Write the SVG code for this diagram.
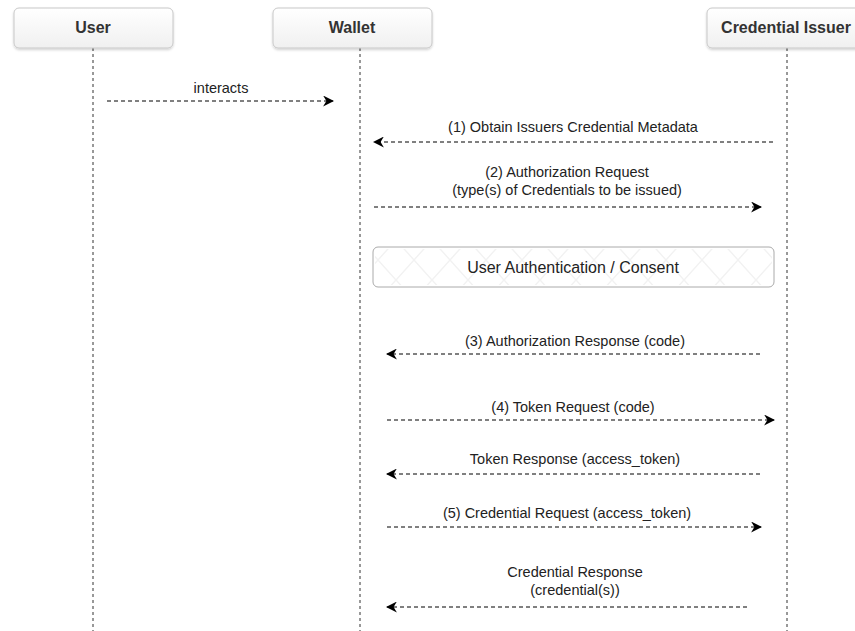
<svg xmlns="http://www.w3.org/2000/svg" width="855" height="631" viewBox="0 0 855 631">
<defs>
<linearGradient id="hdr" x1="0" y1="0" x2="0" y2="1">
<stop offset="0" stop-color="#ffffff"/>
<stop offset="1" stop-color="#f0f0f0"/>
</linearGradient>
<filter id="sh" x="-10%" y="-20%" width="120%" height="150%">
<feDropShadow dx="0" dy="1.5" stdDeviation="1.2" flood-color="#000" flood-opacity="0.18"/>
</filter>
<pattern id="xh" width="36" height="40" patternUnits="userSpaceOnUse">
<path d="M0,0 L36,40 M36,0 L0,40" stroke="#f2f2f2" stroke-width="1.5" fill="none"/>
</pattern>
<marker id="ah" viewBox="0 0 10 10" refX="9" refY="5" markerWidth="11" markerHeight="11" markerUnits="userSpaceOnUse" orient="auto">
<path d="M0,0 L10,5 L0,10 L3,5 z" fill="#000"/>
</marker>
</defs>
<style>
.hdr{fill:url(#hdr);stroke:#c8c8c8;stroke-width:1;filter:url(#sh)}
.ht{font-family:"Liberation Sans",Arial,sans-serif;font-size:16px;font-weight:bold;fill:#333;text-anchor:middle}
.life{stroke:#333;stroke-width:1;stroke-dasharray:3 3;fill:none}
.msg{stroke:#000;stroke-width:1;stroke-dasharray:4 3;fill:none;marker-end:url(#ah)}
.lbl{font-family:"Liberation Sans",Arial,sans-serif;font-size:14.5px;fill:#222;text-anchor:middle}
.big{font-size:16px}
</style>
<rect width="855" height="631" fill="#fff"/>
<g id="lifelines">
<line class="life" x1="93" y1="48" x2="93" y2="631"/>
<line class="life" x1="360" y1="48" x2="360" y2="631"/>
<line class="life" x1="787" y1="48" x2="787" y2="631"/>
</g>
<g id="user">
<rect class="hdr" x="14" y="8" width="159" height="40" rx="5"/>
<text class="ht" x="93" y="33">User</text>
</g>
<g id="wallet">
<rect class="hdr" x="273" y="8" width="159" height="40" rx="5"/>
<text class="ht" x="352" y="33">Wallet</text>
</g>
<g id="issuer">
<rect class="hdr" x="707" y="8" width="159" height="40" rx="5"/>
<text class="ht" x="786" y="33">Credential Issuer</text>
</g>
<g id="consent">
<rect x="373" y="247" width="401" height="40" rx="5" fill="#fff" stroke="#aaa"/>
<rect x="375" y="249" width="397" height="36" rx="4" fill="url(#xh)"/>
<text class="lbl big" x="573" y="273">User Authentication / Consent</text>
</g>
<g id="connectors">
<line class="msg" x1="107" y1="101" x2="333" y2="101"/>
<text class="lbl" x="221" y="93">interacts</text>
<line class="msg" x1="773" y1="142" x2="374" y2="142"/>
<text class="lbl" x="573" y="132">(1) Obtain Issuers Credential Metadata</text>
<line class="msg" x1="374" y1="207" x2="761" y2="207"/>
<text class="lbl" x="567" y="177">(2) Authorization Request</text>
<text class="lbl" x="567" y="195">(type(s) of Credentials to be issued)</text>
<line class="msg" x1="760" y1="354" x2="387" y2="354"/>
<text class="lbl" x="575" y="346">(3) Authorization Response (code)</text>
<line class="msg" x1="387" y1="420" x2="774" y2="420"/>
<text class="lbl" x="573" y="412">(4) Token Request (code)</text>
<line class="msg" x1="760" y1="474" x2="387" y2="474"/>
<text class="lbl" x="575" y="464">Token Response (access_token)</text>
<line class="msg" x1="387" y1="527" x2="761" y2="527"/>
<text class="lbl" x="567" y="518">(5) Credential Request (access_token)</text>
<text class="lbl" x="575" y="577">Credential Response</text>
<text class="lbl" x="575" y="595">(credential(s))</text>
<line class="msg" x1="747" y1="607" x2="387" y2="607"/>
</g>
</svg>
